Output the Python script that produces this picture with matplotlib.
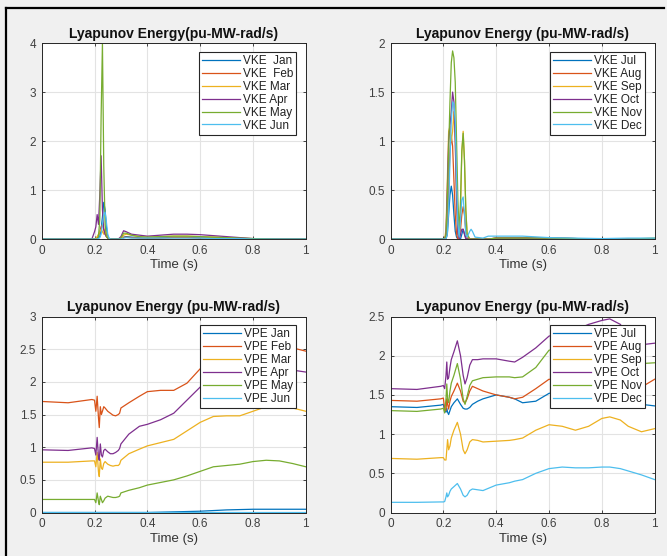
import matplotlib
matplotlib.use("Agg")
import matplotlib.pyplot as plt
from matplotlib.lines import Line2D
from matplotlib.ticker import FormatStrFormatter

#==========================Data==========================

# MATLAB default line colours
colors = ["#0072BD", "#D95319", "#EDB120", "#7E2F8E", "#77AC30", "#4DBEEE"]

# --- top left: kinetic energy Jan-Jun ---
t_ke1 = [0, 0.19, 0.2, 0.205, 0.21, 0.215, 0.22, 0.225, 0.23, 0.235, 0.24, 0.245, 0.25, 0.255,
         0.26, 0.27, 0.28, 0.29, 0.3, 0.31, 0.32, 0.34, 0.37, 0.4, 0.45, 0.5, 0.55, 0.6, 0.65,
         0.7, 0.75, 0.8, 0.9, 1.0]
vke_jan = [0, 0, 0, 0, 0, 0.02, 0.05, 0.2, 0.45, 0.75, 0.6, 0.25, 0.05, 0.01, 0, 0, 0, 0, 0,
           0.04, 0.05, 0.04, 0.03, 0.02, 0.03, 0.04, 0.04, 0.03, 0.03, 0.02, 0.01, 0.005, 0, 0]
vke_feb = [0, 0, 0, 0, 0.02, 0.08, 0.15, 0.25, 0.3, 0.2, 0.1, 0.05, 0.02, 0.01, 0, 0, 0, 0, 0,
           0.03, 0.04, 0.03, 0.02, 0.02, 0.02, 0.03, 0.03, 0.02, 0.02, 0.01, 0.01, 0, 0, 0]
vke_mar = [0, 0, 0, 0.02, 0.05, 0.1, 0.15, 0.2, 0.15, 0.1, 0.2, 0.1, 0.03, 0.01, 0, 0, 0, 0, 0,
           0.08, 0.1, 0.08, 0.05, 0.04, 0.05, 0.06, 0.06, 0.05, 0.04, 0.03, 0.02, 0.01, 0, 0]
vke_apr = [0, 0, 0.15, 0.25, 0.5, 0.3, 0.9, 1.7, 0.6, 0.2, 0.1, 0.05, 0.02, 0, 0, 0, 0, 0, 0.05,
           0.17, 0.15, 0.1, 0.08, 0.06, 0.08, 0.1, 0.1, 0.09, 0.07, 0.05, 0.03, 0.01, 0, 0]
vke_may = [0, 0, 0, 0, 0, 0.05, 0.4, 2.5, 4.0, 1.5, 0.3, 0.05, 0.02, 0, 0, 0, 0, 0, 0.02,
           0.12, 0.12, 0.08, 0.05, 0.04, 0.05, 0.06, 0.06, 0.05, 0.04, 0.03, 0.02, 0.01, 0, 0]
vke_jun = [0, 0, 0, 0, 0, 0.01, 0.03, 0.1, 0.3, 0.5, 0.55, 0.35, 0.1, 0.02, 0, 0, 0, 0, 0,
           0.02, 0.03, 0.02, 0.02, 0.02, 0.02, 0.02, 0.02, 0.02, 0.01, 0.01, 0.01, 0, 0, 0]
labels_ke1 = ["VKE  Jan", "VKE  Feb", "VKE Mar", "VKE Apr", "VKE May", "VKE Jun"]

# --- top right: kinetic energy Jul-Dec ---
t_ke2 = [0, 0.19, 0.2, 0.205, 0.21, 0.215, 0.22, 0.225, 0.23, 0.235, 0.24, 0.245, 0.25, 0.255,
         0.26, 0.265, 0.27, 0.275, 0.28, 0.285, 0.29, 0.3, 0.305, 0.31, 0.32, 0.35, 0.37, 0.4,
         0.5, 0.6, 0.7, 0.8, 0.9, 1.0]
vke_jul = [0, 0, 0, 0, 0, 0.05, 0.25, 0.45, 0.54, 0.45, 0.25, 0.08, 0.02, 0, 0, 0, 0.05, 0.1,
           0.05, 0.01, 0, 0, 0, 0, 0, 0, 0, 0.005, 0.01, 0.01, 0.005, 0, 0, 0]
vke_aug = [0, 0, 0, 0, 0, 0.1, 0.5, 0.9, 1.05, 0.95, 0.6, 0.25, 0.05, 0, 0, 0.1, 0.25, 0.33,
           0.25, 0.08, 0.01, 0, 0, 0, 0, 0, 0, 0.01, 0.01, 0.01, 0.005, 0, 0, 0]
vke_sep = [0, 0, 0, 0, 0.1, 0.6, 1.1, 1.15, 1.0, 1.1, 1.3, 1.0, 0.4, 0.05, 0, 0.3, 0.9, 1.1,
           0.8, 0.3, 0.05, 0, 0, 0, 0, 0, 0, 0.01, 0.01, 0.01, 0.005, 0, 0, 0]
vke_oct = [0, 0, 0, 0, 0.05, 0.5, 1.0, 1.15, 1.3, 1.5, 1.4, 1.0, 0.4, 0.05, 0, 0.05, 0.1, 0.1,
           0.05, 0, 0, 0, 0, 0, 0, 0, 0, 0.01, 0.01, 0.01, 0.005, 0, 0, 0]
vke_nov = [0, 0, 0, 0, 0.05, 0.4, 0.9, 1.4, 1.8, 1.92, 1.85, 1.6, 1.0, 0.4, 0.05, 0.4, 0.9,
           1.08, 0.8, 0.3, 0.05, 0, 0, 0, 0, 0, 0, 0.01, 0.01, 0.01, 0.005, 0, 0, 0.01]
vke_dec = [0, 0, 0, 0, 0, 0.05, 0.3, 0.8, 1.2, 1.4, 1.38, 1.2, 0.6, 0.15, 0.02, 0.2, 0.4, 0.43,
           0.25, 0.05, 0.02, 0.08, 0.1, 0.08, 0.02, 0.01, 0.03, 0.03, 0.03, 0.015, 0.01, 0.005,
           0.01, 0.01]
labels_ke2 = ["VKE Jul", "VKE Aug", "VKE Sep", "VKE Oct", "VKE Nov", "VKE Dec"]

# --- bottom left: potential energy Jan-Jun ---
t_pe1 = [0, 0.1, 0.19, 0.2, 0.205, 0.21, 0.215, 0.218, 0.222, 0.226, 0.23, 0.235, 0.24, 0.25,
         0.26, 0.27, 0.28, 0.29, 0.295, 0.3, 0.33, 0.37, 0.4, 0.45, 0.5, 0.55, 0.6, 0.65, 0.7,
         0.75, 0.8, 0.85, 0.9, 0.95, 1.0]
vpe_jan = [0, 0, 0, 0, 0, 0, 0, 0, 0, 0, 0, 0, 0, 0, 0, 0, 0, 0, 0, 0, 0, 0, 0, 0.005, 0.01,
           0.015, 0.02, 0.03, 0.04, 0.045, 0.05, 0.05, 0.05, 0.05, 0.05]
vpe_feb = [1.70, 1.68, 1.73, 1.72, 1.55, 1.78, 1.45, 1.30, 1.62, 1.5, 1.55, 1.62, 1.6, 1.55,
           1.52, 1.49, 1.48, 1.5, 1.52, 1.6, 1.68, 1.78, 1.85, 1.87, 1.87, 1.98, 2.2, 2.4, 2.5,
           2.55, 2.6, 2.6, 2.55, 2.52, 2.47]
vpe_mar = [0.77, 0.77, 0.79, 0.79, 0.70, 0.92, 0.62, 0.55, 0.82, 0.68, 0.66, 0.75, 0.78, 0.74,
           0.72, 0.71, 0.72, 0.72, 0.74, 0.8, 0.9, 0.97, 1.02, 1.07, 1.12, 1.25, 1.38, 1.47,
           1.48, 1.48, 1.55, 1.62, 1.65, 1.6, 1.55]
vpe_apr = [0.96, 0.95, 0.99, 0.98, 0.88, 1.15, 0.85, 0.8, 1.05, 0.88, 0.85, 0.95, 0.97, 0.93,
           0.9, 0.9, 0.92, 0.95, 0.98, 1.05, 1.2, 1.32, 1.35, 1.42, 1.52, 1.72, 1.92, 2.05, 2.12,
           2.18, 2.22, 2.25, 2.22, 2.18, 2.15]
vpe_may = [0.2, 0.2, 0.2, 0.2, 0.15, 0.3, 0.17, 0.12, 0.25, 0.2, 0.15, 0.18, 0.22, 0.25, 0.24,
           0.23, 0.23, 0.24, 0.25, 0.3, 0.34, 0.38, 0.42, 0.46, 0.5, 0.56, 0.63, 0.7, 0.72, 0.74,
           0.78, 0.8, 0.79, 0.75, 0.7]
vpe_jun = [0.005] * len(t_pe1)
labels_pe1 = ["VPE Jan", "VPE Feb", "VPE Mar", "VPE Apr", "VPE May", "VPE Jun"]

# --- bottom right: potential energy Jul-Dec ---
t_pe2 = [0, 0.1, 0.19, 0.2, 0.205, 0.21, 0.213, 0.216, 0.22, 0.225, 0.23, 0.24, 0.253, 0.265,
         0.275, 0.282, 0.29, 0.3, 0.31, 0.33, 0.35, 0.4, 0.45, 0.47, 0.5, 0.55, 0.6, 0.65, 0.7,
         0.75, 0.8, 0.83, 0.87, 0.9, 0.95, 1.0]
vpe_jul = [1.35, 1.34, 1.37, 1.38, 1.30, 1.28, 1.33, 1.28, 1.25, 1.3, 1.35, 1.4, 1.45, 1.38,
           1.33, 1.32, 1.32, 1.34, 1.38, 1.42, 1.45, 1.5, 1.47, 1.45, 1.4, 1.42, 1.52, 1.55, 1.5,
           1.45, 1.5, 1.52, 1.45, 1.4, 1.38, 1.36]
vpe_aug = [1.43, 1.42, 1.45, 1.46, 1.32, 1.3, 1.45, 1.38, 1.32, 1.42, 1.48, 1.55, 1.65, 1.55,
           1.42, 1.4, 1.45, 1.55, 1.61, 1.58, 1.55, 1.5, 1.47, 1.45, 1.47, 1.58, 1.7, 1.68, 1.62,
           1.6, 1.68, 1.72, 1.65, 1.6, 1.6, 1.7]
vpe_sep = [0.69, 0.68, 0.7, 0.7, 0.67, 0.67, 0.8, 0.93, 0.8, 0.85, 0.95, 1.05, 1.15, 1.0, 0.8,
           0.75, 0.8, 0.9, 0.93, 0.92, 0.9, 0.91, 0.92, 0.93, 0.95, 1.05, 1.12, 1.1, 1.05, 1.1,
           1.2, 1.22, 1.18, 1.1, 1.03, 1.07]
vpe_oct = [1.58, 1.57, 1.61, 1.62, 1.58, 1.75, 1.92, 1.7, 1.72, 1.85, 1.95, 2.05, 2.19, 2.0,
           1.75, 1.64, 1.72, 1.88, 1.95, 1.95, 1.96, 1.96, 1.93, 1.92, 1.98, 2.1, 2.25, 2.3, 2.33,
           2.4, 2.45, 2.47, 2.4, 2.25, 2.14, 2.16]
vpe_nov = [1.3, 1.29, 1.32, 1.33, 1.27, 1.45, 1.64, 1.45, 1.4, 1.55, 1.65, 1.75, 1.9, 1.7, 1.45,
           1.38, 1.48, 1.62, 1.68, 1.7, 1.72, 1.73, 1.73, 1.72, 1.73, 1.85, 2.07, 2.1, 2.1, 2.1,
           2.15, 2.15, 2.05, 1.95, 1.9, 1.91]
vpe_dec = [0.13, 0.13, 0.135, 0.135, 0.14, 0.2, 0.25, 0.2, 0.22, 0.27, 0.3, 0.33, 0.37, 0.3,
           0.22, 0.2, 0.22, 0.28, 0.3, 0.29, 0.28, 0.35, 0.38, 0.4, 0.42, 0.5, 0.56, 0.58, 0.57,
           0.57, 0.58, 0.58, 0.56, 0.53, 0.48, 0.42]
labels_pe2 = ["VPE Jul", "VPE Aug", "VPE Sep", "VPE Oct", "VPE Nov", "VPE Dec"]

x_ticks = [0, 0.2, 0.4, 0.6, 0.8, 1.0]

#==========================Figure==========================

plt.rcParams["font.family"] = ["Liberation Sans", "DejaVu Sans"]

fig = plt.figure(figsize=(6.67, 5.56), dpi=100, facecolor="#f0f0f0")

# the black frame lines of the screenshot (top and left)
fig.add_artist(Line2D([6 / 667, 0.995], [1 - 8 / 556, 1 - 8 / 556], color="black", lw=1.6,
                      transform=fig.transFigure))
fig.add_artist(Line2D([6 / 667, 6 / 667], [0.0, 1 - 8 / 556], color="black", lw=1.6,
                      transform=fig.transFigure))

panels = [
    # left, bottom, title, t, series, labels, ymax, ystep
    (0.0625, 0.570, "Lyapunov Energy(pu-MW-rad/s)", t_ke1,
     [vke_jan, vke_feb, vke_mar, vke_apr, vke_may, vke_jun], labels_ke1, 4, 1),
    (0.5855, 0.570, "Lyapunov Energy (pu-MW-rad/s)", t_ke2,
     [vke_jul, vke_aug, vke_sep, vke_oct, vke_nov, vke_dec], labels_ke2, 2, 0.5),
    (0.0625, 0.0782, "Lyapunov Energy (pu-MW-rad/s)", t_pe1,
     [vpe_jan, vpe_feb, vpe_mar, vpe_apr, vpe_may, vpe_jun], labels_pe1, 3, 0.5),
    (0.5855, 0.0782, "Lyapunov Energy (pu-MW-rad/s)", t_pe2,
     [vpe_jul, vpe_aug, vpe_sep, vpe_oct, vpe_nov, vpe_dec], labels_pe2, 2.5, 0.5),
]

for left, bottom, title, t, series, labels, ymax, ystep in panels:
    ax = fig.add_axes([left, bottom, 0.396, 0.3525])
    ax.set_facecolor("white")
    for y, c, lab in zip(series, colors, labels):
        ax.plot(t, y, color=c, lw=0.9, label=lab)

    ax.set_xlim(0, 1)
    ax.set_ylim(0, ymax)
    ax.set_xticks(x_ticks)
    n = int(round(ymax / ystep))
    ax.set_yticks([i * ystep for i in range(n + 1)])
    ax.xaxis.set_major_formatter(FormatStrFormatter("%g"))
    ax.yaxis.set_major_formatter(FormatStrFormatter("%g"))
    ax.grid(True, color="#e3e3e3", lw=0.8)
    ax.set_axisbelow(True)
    ax.tick_params(direction="in", length=2.5, width=0.6, colors="#262626",
                   labelsize=8.5, labelcolor="#404040", top=True, right=True, pad=4)
    for s in ax.spines.values():
        s.set_color("#262626")
        s.set_linewidth(0.7)

    ax.set_title(title, fontsize=10, fontweight="bold", pad=4, color="#111111")
    ax.set_xlabel("Time (s)", fontsize=9.5, color="#333333", labelpad=2)

    leg = ax.legend(loc="upper right", bbox_to_anchor=(0.963, 0.955), fontsize=8.5,
                    handlelength=3.2, handletextpad=0.25, borderpad=0.25,
                    labelspacing=0.08, fancybox=False, framealpha=1, borderaxespad=0)
    leg.get_frame().set_edgecolor("#262626")
    leg.get_frame().set_linewidth(0.8)
    for txt in leg.get_texts():
        txt.set_color("#222222")

fig.savefig("out.png", dpi=100, facecolor=fig.get_facecolor())
